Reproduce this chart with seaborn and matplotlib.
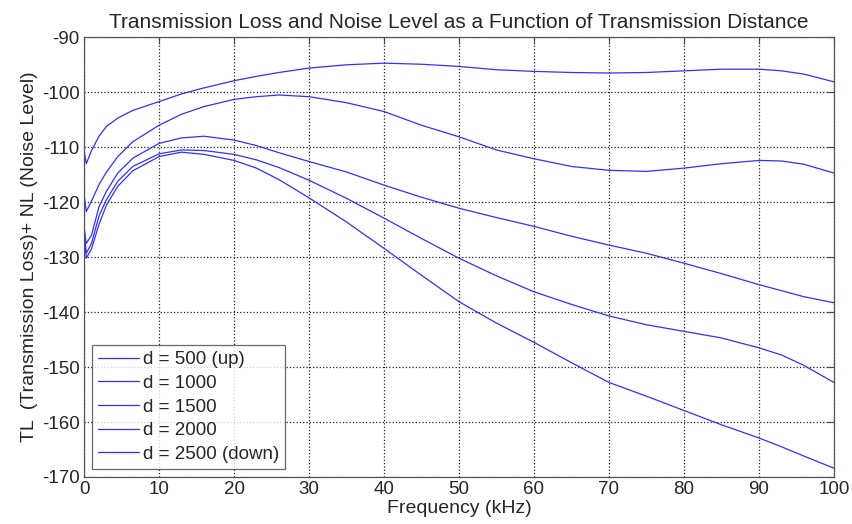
import numpy as np
import pandas as pd
import matplotlib
matplotlib.use('Agg')
import matplotlib.pyplot as plt
import seaborn as sns

# frequency samples (kHz)
freq = [0, 0.3, 1, 2, 3, 4.5, 6.5, 10, 13, 16, 20, 23, 26, 30, 35, 40, 45,
        50, 55, 60, 65, 70, 75, 80, 85, 90, 93, 96, 100]

# TL + NL (dB), one list per distance
d500 = [-110.5, -113.0, -110.6, -108.0, -106.2, -104.7, -103.3, -101.7, -100.3, -99.2,
        -97.9, -97.1, -96.4, -95.6, -95.0, -94.7, -94.9, -95.3, -95.9, -96.2, -96.4,
        -96.5, -96.4, -96.1, -95.8, -95.8, -96.1, -96.7, -98.1]
d1000 = [-118.5, -121.7, -119.8, -116.8, -114.5, -111.7, -109.0, -106.0, -104.0, -102.6,
         -101.3, -100.8, -100.5, -100.8, -101.9, -103.5, -106.0, -108.1, -110.5, -112.1,
         -113.5, -114.2, -114.4, -113.8, -113.0, -112.4, -112.5, -113.1, -114.7]
d1500 = [-124.5, -127.5, -126.0, -120.8, -118.0, -114.7, -112.0, -109.3, -108.3, -108.0,
         -108.7, -109.7, -111.0, -112.6, -114.5, -116.9, -119.1, -121.1, -122.8, -124.4,
         -126.2, -127.8, -129.3, -131.1, -133.0, -135.0, -136.1, -137.2, -138.3]
d2000 = [-125.0, -129.3, -127.5, -122.5, -119.5, -116.2, -113.5, -111.2, -110.5, -110.6,
         -111.3, -112.3, -113.7, -116.0, -119.3, -122.9, -126.6, -130.2, -133.4, -136.3,
         -138.6, -140.7, -142.3, -143.5, -144.7, -146.5, -147.8, -149.7, -152.8]
d2500 = [-125.5, -130.2, -128.5, -124.0, -120.5, -117.1, -114.3, -111.7, -110.9, -111.3,
         -112.4, -113.8, -115.9, -119.2, -123.6, -128.4, -133.3, -138.1, -142.0, -145.5,
         -149.2, -152.8, -155.3, -157.9, -160.5, -162.9, -164.5, -166.2, -168.4]

labels = ['d = 500 (up)', 'd = 1000', 'd = 1500', 'd = 2000', 'd = 2500 (down)']
series = [d500, d1000, d1500, d2000, d2500]

rows = []
for lab, vals in zip(labels, series):
    for f, v in zip(freq, vals):
        rows.append({'freq': f, 'level': v, 'dist': lab})
df = pd.DataFrame(rows)

sns.set_style('white')
plt.rcParams['font.family'] = ['Liberation Sans', 'DejaVu Sans']
plt.rcParams['axes.unicode_minus'] = False

fig = plt.figure(figsize=(8.53, 5.24), dpi=100)
ax = fig.add_axes([0.0985, 0.0897, 0.8792, 0.8391])

sns.lineplot(data=df, x='freq', y='level', hue='dist', hue_order=labels,
             palette=['#3030ff'] * 5, linewidth=0.9, ax=ax, sort=False)

ax.set_xlim(0, 100)
ax.set_ylim(-170, -90)
ax.set_xticks(range(0, 101, 10))
ax.set_yticks(range(-170, -89, 10))
ax.grid(True, linestyle=':', color='#222222', linewidth=0.9)
ax.tick_params(direction='in', length=5, top=True, right=True,
               labelsize=13.5, color='#444444')
ax.tick_params(axis='y', pad=3)
ax.tick_params(axis='x', pad=3)
for sp in ax.spines.values():
    sp.set_color('#555555')
    sp.set_linewidth(0.9)

ax.set_title('Transmission Loss and Noise Level as a Function of Transmission Distance',
             fontsize=15, pad=7)
ax.set_xlabel('Frequency (kHz)', fontsize=14, labelpad=1)
ax.set_ylabel('TL  (Transmission Loss)+ NL (Noise Level)', fontsize=14, labelpad=3)

leg = ax.legend(loc='lower left', fontsize=13.5, frameon=True, fancybox=False,
                edgecolor='#444444', handlelength=2.2, handletextpad=0.2,
                borderaxespad=0.45, labelspacing=0.35, borderpad=0.3)
leg.get_frame().set_linewidth(0.9)

fig.savefig('out.png', dpi=100)
